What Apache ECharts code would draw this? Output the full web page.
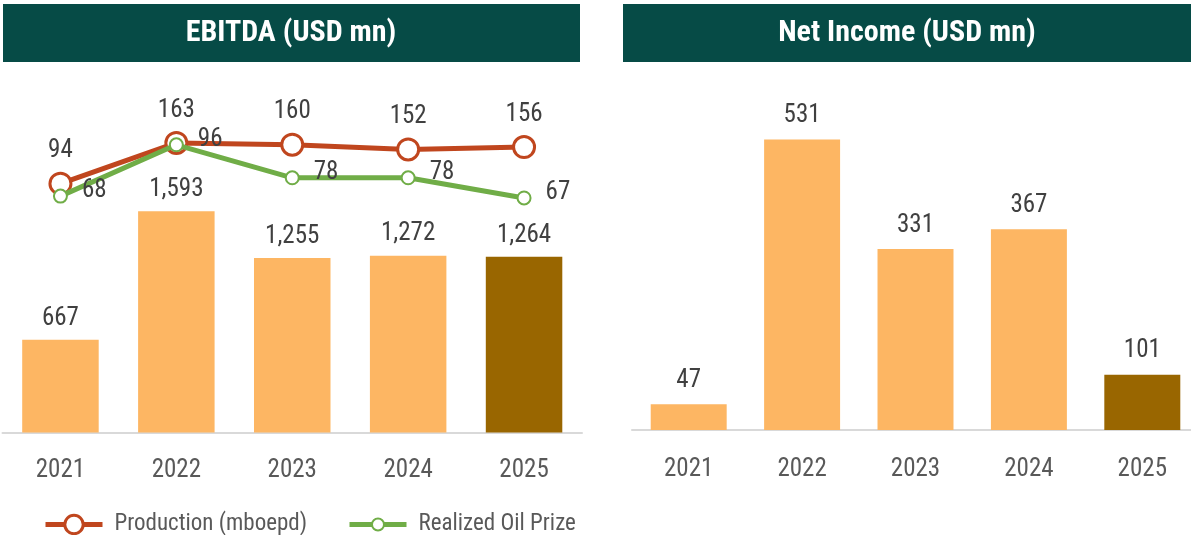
<!DOCTYPE html>
<html>
<head>
<meta charset="utf-8">
<script src="https://cdn.jsdelivr.net/npm/echarts@6/dist/echarts.min.js"></script>
<style>
  html, body { margin: 0; padding: 0; background: #fff; }
  #chart { width: 1191px; height: 535px; }
</style>
</head>
<body>
<div id="chart"></div>
<script>
var years = ['2021', '2022', '2023', '2024', '2025'];
var ebitda = [667, 1593, 1255, 1272, 1264];
var netIncome = [47, 531, 331, 367, 101];
var production = [94, 163, 160, 152, 156];
var oilPrice = [68, 96, 78, 78, 67];
var highlightYear = '2025';

var FONT = "'Liberation Sans Narrow', 'Roboto Condensed', 'DejaVu Sans Condensed', sans-serif";
var ORANGE = '#FDB663';
var DARK = '#996600';
var RED = '#C0461E';
var GREEN = '#70AD47';
var TEAL = '#064B46';

function barData(values) {
    return values.map(function (v, i) {
        return years[i] === highlightYear ? { value: v, itemStyle: { color: DARK } } : v;
    });
}
function fmt(p) {
    return Number(p.value).toLocaleString('en-US');
}

var myChart = echarts.init(document.getElementById('chart'));

var xAxisBase = {
    type: 'category',
    data: years,
    axisLine: { lineStyle: { color: '#D9D9D9', width: 2 } },
    axisTick: { show: false },
    axisLabel: { fontFamily: FONT, fontSize: 25, color: '#595959' }
};

myChart.setOption({
    animation: false,
    graphic: [
        { type: 'rect', shape: { x: 3, y: 4, width: 577, height: 58 }, style: { fill: TEAL } },
        { type: 'rect', shape: { x: 623, y: 4, width: 568, height: 58 }, style: { fill: TEAL } },
        {
            type: 'text', x: 291, y: 33,
            style: { text: 'EBITDA (USD mn)', fill: '#fff', font: 'bold 30px ' + FONT, align: 'center', verticalAlign: 'middle' }
        },
        {
            type: 'text', x: 907, y: 33,
            style: { text: 'Net Income (USD mn)', fill: '#fff', font: 'bold 30px ' + FONT, align: 'center', verticalAlign: 'middle' }
        }
    ],
    grid: [
        { left: 2.5, width: 579.5, top: 99, bottom: 102.5, outerBoundsMode: 'none' },
        { left: 632, width: 567, top: 99, bottom: 105, outerBoundsMode: 'none' }
    ],
    xAxis: [
        Object.assign({ gridIndex: 0 }, xAxisBase, { axisLabel: Object.assign({ margin: 26 }, xAxisBase.axisLabel) }),
        Object.assign({ gridIndex: 1 }, xAxisBase, { axisLabel: Object.assign({ margin: 27 }, xAxisBase.axisLabel) })
    ],
    yAxis: [
        { gridIndex: 0, type: 'value', min: 0, max: 2400, show: false },
        { gridIndex: 0, type: 'value', min: -328, max: 237.5, show: false },
        { gridIndex: 0, type: 'value', min: -61, max: 121, show: false },
        { gridIndex: 1, type: 'value', min: 0, max: 605, show: false }
    ],
    legend: [
        {
            data: ['Production (mboepd)'],
            left: 38, top: 508,
            itemWidth: 57, itemHeight: 23,
            lineStyle: { width: 5 },
            itemStyle: { borderWidth: 3 },
            textStyle: { fontFamily: FONT, fontSize: 23, color: '#595959', padding: [0, 0, 0, 7] }
        },
        {
            data: ['Realized Oil Prize'],
            left: 342, top: 508,
            itemWidth: 57, itemHeight: 15,
            lineStyle: { width: 5 },
            itemStyle: { borderWidth: 2 },
            textStyle: { fontFamily: FONT, fontSize: 23, color: '#595959', padding: [0, 0, 0, 7] }
        }
    ],
    series: [
        {
            name: 'EBITDA',
            type: 'bar',
            xAxisIndex: 0, yAxisIndex: 0,
            barWidth: '66%',
            data: barData(ebitda),
            itemStyle: { color: ORANGE },
            label: {
                show: true, position: 'top', distance: 9,
                fontFamily: FONT, fontSize: 25, color: '#404040', formatter: fmt
            }
        },
        {
            name: 'Production (mboepd)',
            type: 'line',
            xAxisIndex: 0, yAxisIndex: 1,
            data: production,
            symbol: 'circle', symbolSize: 21,
            lineStyle: { color: RED, width: 5 },
            itemStyle: { color: '#fff', borderColor: RED, borderWidth: 3 },
            label: {
                show: true, position: 'top', distance: 8,
                fontFamily: FONT, fontSize: 25, color: '#404040'
            },
            z: 3
        },
        {
            name: 'Realized Oil Prize',
            type: 'line',
            xAxisIndex: 0, yAxisIndex: 2,
            data: oilPrice,
            symbol: 'circle', symbolSize: 13,
            lineStyle: { color: GREEN, width: 5 },
            itemStyle: { color: '#fff', borderColor: GREEN, borderWidth: 2 },
            label: {
                show: true, position: 'right', distance: 14, offset: [0, -5],
                fontFamily: FONT, fontSize: 25, color: '#404040'
            },
            z: 4
        },
        {
            name: 'Net Income',
            type: 'bar',
            xAxisIndex: 1, yAxisIndex: 3,
            barWidth: '67%',
            data: barData(netIncome),
            itemStyle: { color: ORANGE },
            label: {
                show: true, position: 'top', distance: 11,
                fontFamily: FONT, fontSize: 25, color: '#404040', formatter: fmt
            }
        }
    ]
});
</script>
</body>
</html>
